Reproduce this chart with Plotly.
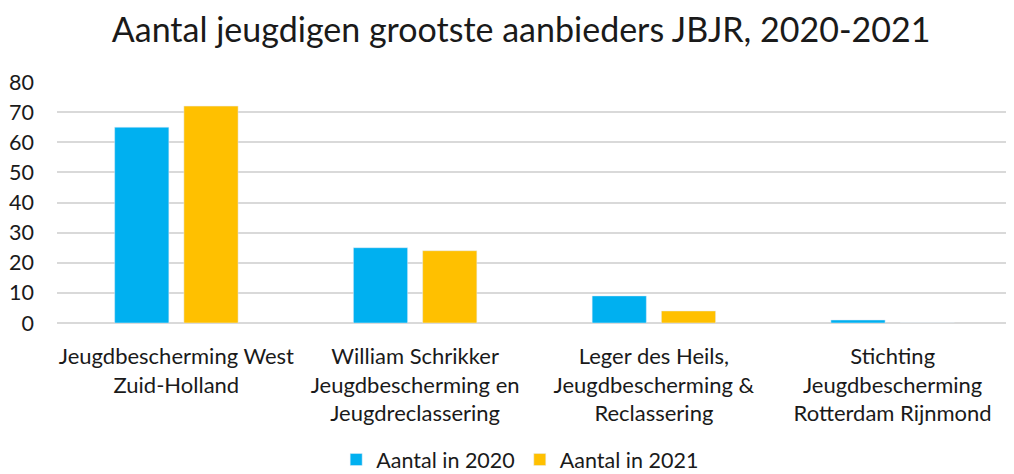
import plotly.graph_objects as go

categories = [
    "Jeugdbescherming West<br>Zuid-Holland",
    "William Schrikker<br>Jeugdbescherming en<br>Jeugdreclassering",
    "Leger des Heils,<br>Jeugdbescherming &<br>Reclassering",
    "Stichting<br>Jeugdbescherming<br>Rotterdam Rijnmond",
]
values_2020 = [65, 25, 9, 1]
values_2021 = [72, 24, 4, 0]
series_names = ["Aantal in 2020", "Aantal in 2021"]
y_ticks = [0, 10, 20, 30, 40, 50, 60, 70, 80]

FONT = "Lato, Carlito, Calibri, sans-serif"

fig = go.Figure()
fig.add_trace(go.Bar(x=categories, y=values_2020, name=series_names[0], marker_color="#00B0F0"))
fig.add_trace(go.Bar(x=categories, y=values_2021, name=series_names[1], marker_color="#FFC000"))

fig.update_layout(
    width=1006, height=466,
    margin=dict(l=49, r=2, t=74, b=151, autoexpand=False),
    paper_bgcolor="white", plot_bgcolor="white",
    font=dict(family=FONT, size=21.5, color="#1a1a1a"),
    title=dict(text="Aantal jeugdigen grootste aanbieders JBJR, 2020-2021",
               x=0.51, xanchor="center", xref="container", yref="container",
               y=0.953, yanchor="middle",
               font=dict(size=34, color="#1a1a1a")),
    barmode="group", bargap=0.42, bargroupgap=0.217,
    legend=dict(orientation="h", x=0.485, xanchor="center", yref="container",
                y=0.031, yanchor="middle",
                font=dict(size=21.5), itemwidth=30, traceorder="normal"),
    xaxis=dict(showgrid=False, showline=False, ticks="", tickfont=dict(size=22),
               ticklabelstandoff=18, automargin=False),
    yaxis=dict(range=[0, 80], tickvals=y_ticks, showgrid=True, gridcolor="#D9D9D9",
               gridwidth=1.5, zeroline=True, zerolinecolor="#D9D9D9", zerolinewidth=1.5,
               showline=False, ticks="", tickfont=dict(size=21.5), ticklabelstandoff=22,
               automargin=False),
)

fig.write_html("out.html")
